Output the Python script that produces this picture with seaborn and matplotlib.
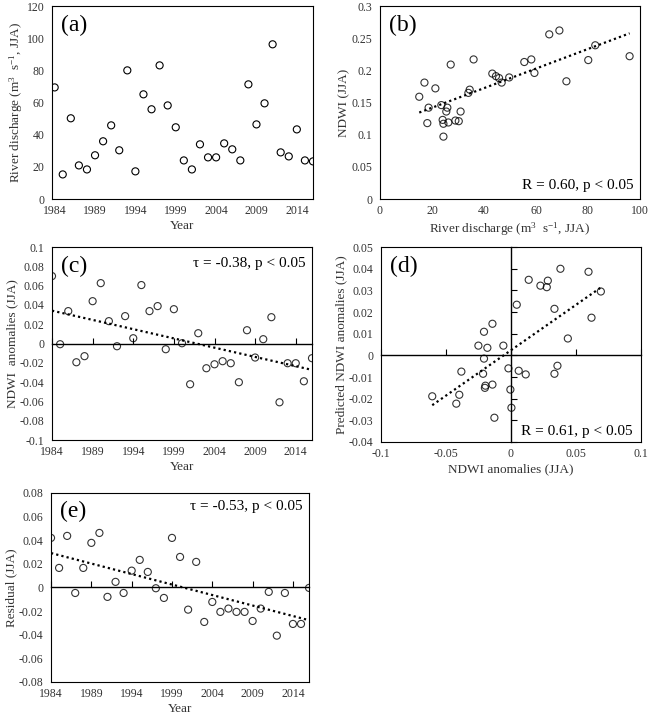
import numpy as np
import seaborn as sns
import matplotlib.pyplot as plt
from matplotlib.ticker import FuncFormatter

years = np.arange(1984, 2017)

# (a) river discharge, JJA
discharge = [69.4, 15.3, 50.2, 20.9, 18.4, 27.2, 35.9, 45.8, 30.3, 80.0, 17.2,
             65.1, 55.8, 83.1, 58.2, 44.6, 24.0, 18.4, 34.0, 25.9, 25.9, 34.6,
             30.9, 24.0, 71.3, 46.4, 59.5, 96.2, 29.0, 26.5, 43.3, 24.0, 23.4]

# (b) NDWI vs discharge
b_discharge = [15.1, 17.1, 18.2, 18.7, 21.3, 23.6, 24.1, 24.4, 24.4, 25.5, 25.9,
               26.3, 27.2, 29.0, 30.3, 31.0, 34.0, 34.5, 36.0, 43.2, 44.6, 45.8,
               46.8, 49.7, 55.5, 58.2, 59.4, 65.1, 69.0, 71.7, 80.1, 82.8, 96.0]
b_ndwi = [0.159, 0.181, 0.118, 0.142, 0.172, 0.146, 0.123, 0.117, 0.097, 0.136, 0.142,
          0.119, 0.209, 0.122, 0.121, 0.136, 0.165, 0.170, 0.217, 0.195, 0.191, 0.188,
          0.181, 0.189, 0.213, 0.217, 0.196, 0.256, 0.262, 0.183, 0.216, 0.239, 0.222]

# (c) NDWI anomalies
ndwi_anom = [0.0699, -0.0007, 0.0336, -0.0194, -0.0131, 0.0439, 0.0626, 0.0232,
             -0.0028, 0.0284, 0.0055, 0.0606, 0.0336, 0.0388, -0.0059, 0.0356,
             0.0003, -0.0422, 0.0107, -0.0256, -0.0215, -0.0183, -0.0204, -0.0401,
             0.0138, -0.0145, 0.0045, 0.0273, -0.0609, -0.0204, -0.0204, -0.0391,
             -0.0152]

# (d) predicted vs observed anomalies
d_obs = [-0.0605, -0.0420, -0.0397, -0.0381, -0.0250, -0.0207, -0.0207, -0.0214,
         -0.0181, -0.0196, -0.0200, -0.0142, -0.0142, -0.0127, -0.0058, -0.0019,
         -0.0004, 0.0004, 0.0045, 0.0060, 0.0114, 0.0137, 0.0227, 0.0284, 0.0276,
         0.0335, 0.0335, 0.0358, 0.0381, 0.0438, 0.0597, 0.0620, 0.0692]
d_pred = [-0.0189, -0.0223, -0.0182, -0.0075, 0.0045, 0.0109, -0.0015, -0.0085,
          0.0035, -0.0140, -0.0150, 0.0146, -0.0135, -0.0288, 0.0045, -0.0060,
          -0.0158, -0.0242, 0.0234, -0.0071, -0.0088, 0.0349, 0.0322, 0.0345, 0.0315,
          0.0215, -0.0085, -0.0048, 0.0400, 0.0078, 0.0386, 0.0174, 0.0295]

# (e) residual
residual = [0.0419, 0.0165, 0.0436, -0.0047, 0.0165, 0.0377, 0.0461, -0.0080,
            0.0047, -0.0047, 0.0142, 0.0233, 0.0131, -0.0007, -0.0089, 0.0419,
            0.0258, -0.0188, 0.0216, -0.0292, -0.0123, -0.0207, -0.0179, -0.0207,
            -0.0207, -0.0284, -0.0179, -0.0038, -0.0408, -0.0047, -0.0309, -0.0309,
            -0.0004]

year_ticks = [1984, 1989, 1994, 1999, 2004, 2009, 2014]

sns.set_style("white")
plt.rcParams['font.family'] = ['Liberation Serif', 'DejaVu Serif']
plt.rcParams['mathtext.fontset'] = 'custom'
plt.rcParams['mathtext.rm'] = 'Liberation Serif'
plt.rcParams['mathtext.it'] = 'Liberation Serif:italic'
plt.rcParams['axes.edgecolor'] = 'black'
plt.rcParams['axes.linewidth'] = 0.8

TXT = '#333333'
FS_TICK = 8.5
FS_LAB = 9.5
FS_ANN = 11
FS_PANEL = 17

scat = dict(facecolors='none', edgecolors='black', linewidths=0.8, s=26)
line = dict(color='black', lw=1.6, ls=(0, (1, 1.4)))


def fmt(v, pos=None):
    r = round(v, 4)
    if abs(r) < 1e-9:
        return '0'
    return f'{r:g}'


def style(ax, xlabel, ylabel, panel):
    ax.set_xlabel(xlabel, fontsize=FS_LAB, color=TXT, labelpad=2)
    ax.set_ylabel(ylabel, fontsize=FS_LAB, color=TXT, labelpad=1)
    ax.xaxis.set_major_formatter(FuncFormatter(fmt))
    ax.yaxis.set_major_formatter(FuncFormatter(fmt))
    ax.tick_params(labelsize=FS_TICK, labelcolor=TXT, direction='in',
                   length=4, width=0.8, color='black')
    ax.tick_params(axis='x', pad=4.5)
    ax.tick_params(axis='y', pad=5.5)
    ax.text(0.035, 0.9, panel, transform=ax.transAxes, fontsize=FS_PANEL,
            va='center', ha='left', color='black')
    for sp in ax.spines.values():
        sp.set_visible(True)
        sp.set_color('black')


def zero_xline(ax, ticks):
    lo, hi = ax.get_ylim()
    sec = ax.secondary_xaxis((0 - lo) / (hi - lo))
    sec.set_xticks(ticks)
    sec.xaxis.set_ticks_position('top')
    sec.tick_params(direction='out', length=4, width=0.8, color='black',
                    labeltop=False, labelbottom=False)
    for sp in sec.spines.values():
        sp.set_linewidth(1.0)
        sp.set_color('black')


def zero_yline(ax, ticks):
    lo, hi = ax.get_xlim()
    sec = ax.secondary_yaxis((0 - lo) / (hi - lo))
    sec.set_yticks(ticks)
    sec.yaxis.set_ticks_position('right')
    sec.tick_params(direction='out', length=4, width=0.8, color='black',
                    labelleft=False, labelright=False)
    for sp in sec.spines.values():
        sp.set_linewidth(1.0)
        sp.set_color('black')


fig = plt.figure(figsize=(6.5, 7.19), dpi=100)
ax_a = fig.add_axes([0.080, 0.7232, 0.4015, 0.2684])
ax_b = fig.add_axes([0.5846, 0.7232, 0.400, 0.2684])
ax_c = fig.add_axes([0.080, 0.388, 0.400, 0.2684])
ax_d = fig.add_axes([0.586, 0.3853, 0.400, 0.271])
ax_e = fig.add_axes([0.0785, 0.0515, 0.397, 0.263])

# (a)
sns.scatterplot(x=years, y=discharge, ax=ax_a, marker='o', **scat)
ax_a.set_xlim(1983.67, 2016)
ax_a.set_ylim(0, 120)
ax_a.set_xticks(year_ticks)
ax_a.set_yticks(np.arange(0, 121, 20))
style(ax_a, 'Year', r'River discharge (m$^{3}$  s$^{-1}$, JJA)', '(a)')

# (b)
sns.regplot(x=b_discharge, y=b_ndwi, ax=ax_b, ci=None, scatter_kws=scat, line_kws=line)
ax_b.set_xlim(0, 100)
ax_b.set_ylim(0, 0.3)
ax_b.set_xticks(np.arange(0, 101, 20))
ax_b.set_yticks(np.arange(0, 0.31, 0.05))
style(ax_b, r'River discharge (m$^{3}$  s$^{-1}$, JJA)', 'NDWI (JJA)', '(b)')
ax_b.text(0.975, 0.07, 'R = 0.60, p < 0.05', transform=ax_b.transAxes,
          fontsize=FS_ANN, ha='right', va='center', color='black')

# (c)
sns.regplot(x=years, y=ndwi_anom, ax=ax_c, ci=None, scatter_kws=scat, line_kws=line)
ax_c.set_xlim(1984, 2016)
ax_c.set_ylim(-0.1, 0.1)
ax_c.set_xticks(year_ticks)
ax_c.set_yticks(np.arange(-0.1, 0.101, 0.02))
style(ax_c, 'Year', 'NDWI  anomalies (JJA)', '(c)')
ax_c.tick_params(axis='x', length=0)
zero_xline(ax_c, year_ticks)
ax_c.text(0.975, 0.917, '\u03c4 = -0.38, p < 0.05', transform=ax_c.transAxes,
          fontsize=FS_ANN, ha='right', va='center', color='black')

# (d)
sns.regplot(x=d_obs, y=d_pred, ax=ax_d, ci=None, scatter_kws=scat, line_kws=line)
ax_d.set_xlim(-0.1, 0.1)
ax_d.set_ylim(-0.04, 0.05)
d_xt = np.arange(-0.1, 0.101, 0.05)
d_yt = np.arange(-0.04, 0.0501, 0.01)
ax_d.set_xticks(d_xt)
ax_d.set_yticks(d_yt)
style(ax_d, 'NDWI anomalies (JJA)', 'Predicted NDWI anomalies (JJA)', '(d)')
ax_d.tick_params(axis='both', length=0)
zero_xline(ax_d, d_xt)
zero_yline(ax_d, d_yt)
ax_d.text(0.97, 0.056, 'R = 0.61, p < 0.05', transform=ax_d.transAxes,
          fontsize=FS_ANN, ha='right', va='center', color='black')

# (e)
sns.regplot(x=years, y=residual, ax=ax_e, ci=None, scatter_kws=scat, line_kws=line)
ax_e.set_xlim(1984, 2016)
ax_e.set_ylim(-0.08, 0.08)
ax_e.set_xticks(year_ticks)
ax_e.set_yticks(np.arange(-0.08, 0.081, 0.02))
style(ax_e, 'Year', 'Residual (JJA)', '(e)')
ax_e.tick_params(axis='x', length=0)
zero_xline(ax_e, year_ticks)
ax_e.text(0.975, 0.926, '\u03c4 = -0.53, p < 0.05', transform=ax_e.transAxes,
          fontsize=FS_ANN, ha='right', va='center', color='black')

fig.savefig('out.png', dpi=100, facecolor='white')
